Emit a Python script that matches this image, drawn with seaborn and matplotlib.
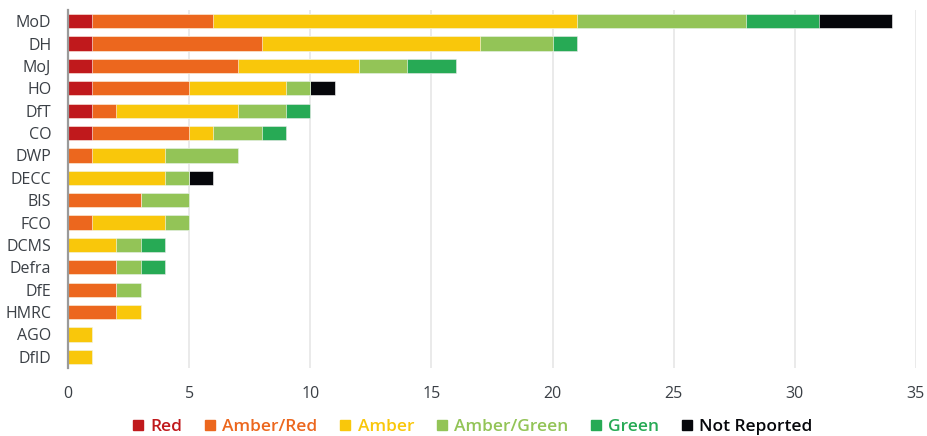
import numpy as np
import pandas as pd
import matplotlib
matplotlib.use("Agg")
import matplotlib.pyplot as plt
from matplotlib.lines import Line2D
import seaborn as sns

departments = ["MoD", "DH", "MoJ", "HO", "DfT", "CO", "DWP", "DECC", "BIS",
               "FCO", "DCMS", "Defra", "DfE", "HMRC", "AGO", "DfID"]
series_names = ["Red", "Amber/Red", "Amber", "Amber/Green", "Green", "Not Reported"]
red          = [1, 1, 1, 1, 1, 1, 0, 0, 0, 0, 0, 0, 0, 0, 0, 0]
amber_red    = [5, 7, 6, 4, 1, 4, 1, 0, 3, 1, 0, 2, 2, 2, 0, 0]
amber        = [15, 9, 5, 4, 5, 1, 3, 4, 0, 3, 2, 0, 0, 1, 1, 1]
amber_green  = [7, 3, 2, 1, 2, 2, 3, 1, 2, 1, 1, 1, 1, 0, 0, 0]
green        = [3, 1, 2, 0, 1, 1, 0, 0, 0, 0, 1, 1, 0, 0, 0, 0]
not_reported = [3, 0, 0, 1, 0, 0, 0, 1, 0, 0, 0, 0, 0, 0, 0, 0]
x_ticks = [0, 5, 10, 15, 20, 25, 30, 35]

colors = ["#C0191C", "#EC671E", "#F9C70B", "#93C457", "#27AA55", "#06070B"]

sns.set_theme(style="white")
plt.rcParams["font.family"] = ["Open Sans", "DejaVu Sans"]

values = np.array([red, amber_red, amber, amber_green, green, not_reported])
cum = np.cumsum(values, axis=0)

fig = plt.figure(figsize=(9.28, 4.36), dpi=100)
ax = fig.add_axes([0.0733, 0.156, 0.9137, 0.821])

# draw stacked bars by overlaying cumulative totals, largest first
for i in range(len(series_names) - 1, -1, -1):
    df = pd.DataFrame({"dept": departments, "value": cum[i]})
    sns.barplot(data=df, x="value", y="dept", orient="h", color=colors[i],
                saturation=1, width=0.64, ax=ax, edgecolor="white", linewidth=0.4)

ax.set_xlim(0, 35)
ax.set_ylim(15.5, -0.5)
ax.set_xticks(x_ticks)
ax.set_xticklabels([str(t) for t in x_ticks])
ax.set_xlabel("")
ax.set_ylabel("")
ax.set_axisbelow(True)
ax.xaxis.grid(True, color="#e6e6e6", linewidth=1.2)
ax.yaxis.grid(False)
for s in ["top", "right", "bottom"]:
    ax.spines[s].set_visible(False)
ax.spines["left"].set_color("#9a9a9a")
ax.spines["left"].set_linewidth(1.6)
ax.tick_params(axis="both", length=0, labelsize=11.5, labelcolor="#3a3f45")
ax.tick_params(axis="x", pad=13)
ax.tick_params(axis="y", pad=12)

handles = [Line2D([0], [0], marker="s", linestyle="none", markersize=7.5,
                  markerfacecolor=c, markeredgecolor=c) for c in colors]
leg = fig.legend(handles, series_names, loc="center", bbox_to_anchor=(0.509, 0.02),
                 ncol=6, frameon=False, handlelength=0.7, handletextpad=0.35,
                 columnspacing=1.25,
                 prop={"family": ["Open Sans", "DejaVu Sans"],
                       "weight": "semibold", "size": 12.5})
for t, c in zip(leg.get_texts(), colors):
    t.set_color(c)

fig.savefig("out.png", dpi=100)
